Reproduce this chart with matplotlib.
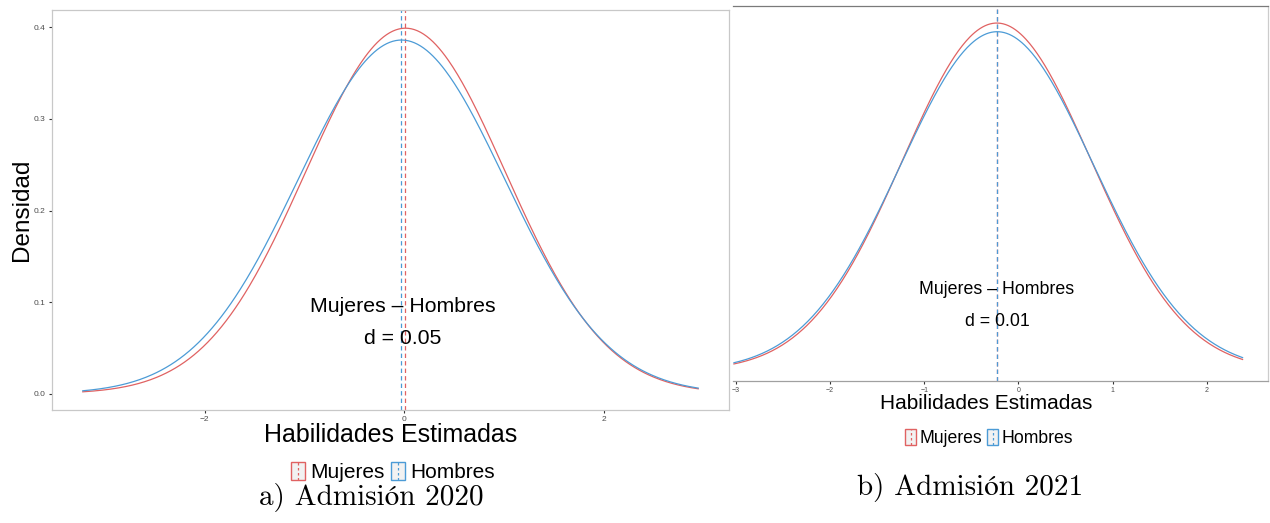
import matplotlib
matplotlib.use('Agg')
import matplotlib.pyplot as plt
import numpy as np
from matplotlib.legend_handler import HandlerBase
from matplotlib.lines import Line2D
from matplotlib.patches import Rectangle

plt.rcParams['font.family'] = ['Liberation Sans', 'DejaVu Sans']

groups = ['Mujeres', 'Hombres']
colors = ['#E06262', '#4C9BD6']

# Admisión 2020: mean and sd of each density curve, and range of the data
means_2020 = [0.01, -0.03]
sds_2020 = [1.0, 1.0335]
range_2020 = [-3.22, 2.94]
d_2020 = 0.05
x_ticks_2020 = [-2, 0, 2]
y_ticks_2020 = [0.0, 0.1, 0.2, 0.3, 0.4]

# Admisión 2021
means_2021 = [-0.229, -0.226]
sds_2021 = [1.0, 1.0255]
range_2021 = [-3.02, 2.38]
d_2021 = 0.01
x_ticks_2021 = [-3, -2, -1, 0, 1, 2]


def normal_density(x, mu, sd):
    return np.exp(-0.5 * ((x - mu) / sd) ** 2) / (sd * np.sqrt(2 * np.pi))


class VKeyHandler(HandlerBase):
    '''Legend key like ggplot's geom_vline key: a framed box with a dashed vertical line.'''
    def create_artists(self, legend, orig_handle, xdescent, ydescent,
                       width, height, fontsize, trans):
        c = orig_handle.get_color()
        box = Rectangle((-xdescent, -ydescent), width, height, facecolor='#F2F2F2',
                        edgecolor=c, lw=1.0, transform=trans)
        xm = -xdescent + width / 2
        line = Line2D([xm, xm], [-ydescent, height - ydescent], color=c, lw=0.9,
                      ls=(0, (2.0, 2.0)), transform=trans)
        return [box, line]


def draw_panel(ax, means, sds, xrange_, d, ticksize):
    xs = np.linspace(xrange_[0], xrange_[1], 400)
    ymin, ymax = np.inf, -np.inf
    for mu, sd, c, g in zip(means, sds, colors, groups):
        ys = normal_density(xs, mu, sd)
        ax.plot(xs, ys, color=c, lw=0.9, label=g, zorder=3)
        ymin, ymax = min(ymin, ys.min()), max(ymax, ys.max())
    # mean lines
    for mu, c in zip(means, colors):
        ax.axvline(mu, color=c, lw=0.9, ls=(0, (3.5, 2.5)), zorder=2)
    # ggplot-like 5% expansion
    xpad = 0.05 * (xrange_[1] - xrange_[0])
    ypad = 0.05 * (ymax - ymin)
    ax.set_xlim(xrange_[0] - xpad, xrange_[1] + xpad)
    ax.set_ylim(ymin - ypad, ymax + ypad)
    ax.tick_params(labelsize=ticksize, labelcolor='#4D4D4D', color='#333333',
                   length=2.5, width=0.8, pad=2)


fig = plt.figure(figsize=(12.7, 5.23), dpi=100)

# ---- a) Admisión 2020 ----
ax1 = fig.add_axes([52 / 1270, 1 - 410 / 523, 677 / 1270, 400 / 523])
draw_panel(ax1, means_2020, sds_2020, range_2020, d_2020, 6)
ax1.set_xticks(x_ticks_2020)
ax1.set_yticks(y_ticks_2020)
ax1.set_yticklabels([f'{v:.1f}' for v in y_ticks_2020])
for s in ax1.spines.values():
    s.set_color('#C8C8C8')
    s.set_linewidth(0.9)
ax1.text(-0.02, 0.078, f'Mujeres – Hombres\nd = {d_2020:.2f}', ha='center', va='center',
         fontsize=15.3, linespacing=1.85, zorder=4)
ax1.set_xlabel('Habilidades Estimadas', fontsize=18)
ax1.xaxis.label.set_va('center')
ax1.xaxis.set_label_coords(0.5, -0.0625)
ax1.set_ylabel('Densidad', fontsize=17.5)
ax1.yaxis.label.set_va('center')
ax1.yaxis.set_label_coords(-0.0445, 0.5)
h1 = [Line2D([], [], color=c) for c in colors]
ax1.legend(h1, groups, handler_map={Line2D: VKeyHandler()}, loc='center',
           bbox_to_anchor=(393 / 1270, 1 - 472 / 523), bbox_transform=fig.transFigure,
           ncol=2, frameon=False, fontsize=15, handlelength=0.67, handleheight=0.96,
           handletextpad=0.25, columnspacing=0.33, borderpad=0)

# ---- b) Admisión 2021 ----
ax2 = fig.add_axes([733 / 1270, 1 - 381 / 523, 535 / 1270, 375 / 523])
draw_panel(ax2, means_2021, sds_2021, range_2021, d_2021, 5)
ax2.set_xlim(-3.03, ax2.get_xlim()[1])
ax2.set_xticks(x_ticks_2021)
ax2.set_yticks([])
ax2.spines['left'].set_visible(False)
ax2.spines['top'].set_color('#7A7A7A')
ax2.spines['bottom'].set_color('#A0A0A0')
ax2.spines['right'].set_color('#CCCCCC')
for s in ax2.spines.values():
    s.set_linewidth(0.9)
ax2.text(-0.228, 0.075, f'Mujeres – Hombres\nd = {d_2021:.2f}', ha='center', va='center',
         fontsize=12.8, linespacing=2.1, zorder=4)
ax2.set_xlabel('Habilidades Estimadas', fontsize=15)
ax2.xaxis.label.set_va('center')
ax2.xaxis.set_label_coords(0.473, -0.0613)
h2 = [Line2D([], [], color=c) for c in colors]
ax2.legend(h2, groups, handler_map={Line2D: VKeyHandler()}, loc='center',
           bbox_to_anchor=(989 / 1270, 1 - 438 / 523), bbox_transform=fig.transFigure,
           ncol=2, frameon=False, fontsize=12.7, handlelength=0.62, handleheight=1.0,
           handletextpad=0.18, columnspacing=0.28, borderpad=0)

# captions (Computer Modern look, STIX for the accented letter)
cap_font = ['cmr10', 'STIXGeneral', 'DejaVu Serif']
fig.text(371 / 1270, 1 - 498 / 523, 'a) Admisión 2020', ha='center', va='center',
         fontsize=21, family=cap_font)
fig.text(970 / 1270, 1 - 487 / 523, 'b) Admisión 2021', ha='center', va='center',
         fontsize=21, family=cap_font)

fig.savefig('out.png', dpi=100)
